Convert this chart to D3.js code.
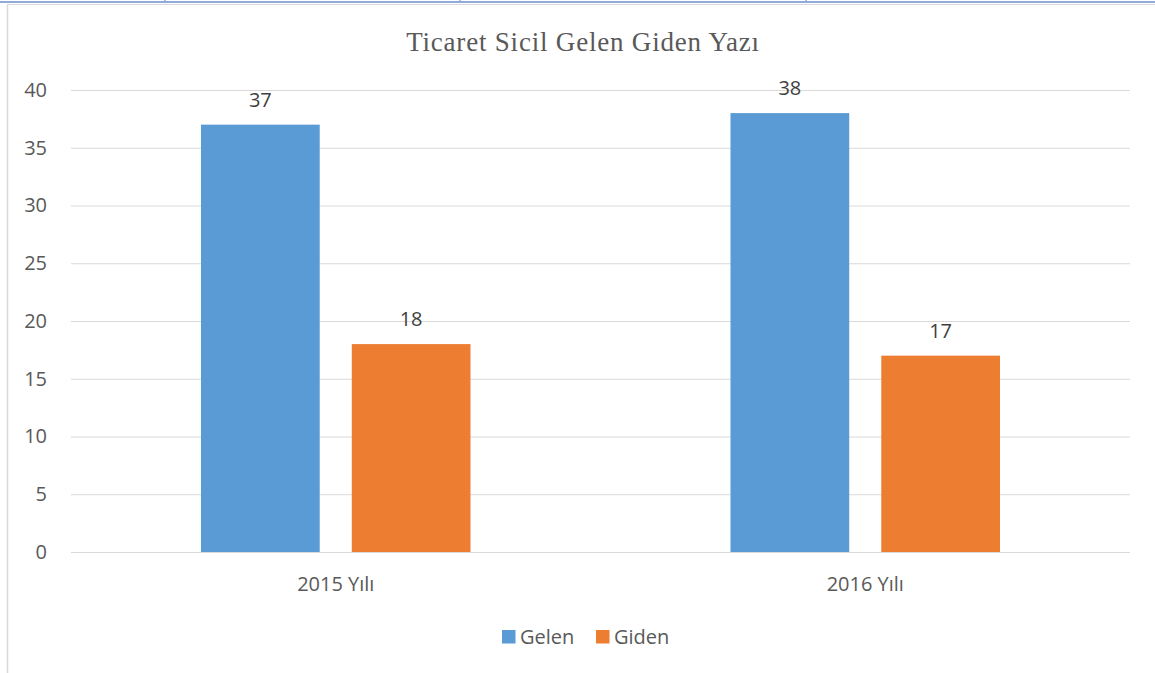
<!DOCTYPE html>
<head>
<meta charset="utf-8">
<title>Ticaret Sicil Gelen Giden Yazı</title>
<script src="https://d3js.org/d3.v7.min.js"></script>
<style>
  body { margin: 0; background: #fff; }
  svg { display: block; }
</style>
</head>
<body>
<div id="container"></div>
<script>
// data
const years = ["2015 Yılı", "2016 Yılı"];
const seriesNames = ["Gelen", "Giden"];
const gelen = [37, 38];
const giden = [18, 17];
const yTicks = [0, 5, 10, 15, 20, 25, 30, 35, 40];
const colors = ["#5B9BD5", "#ED7D31"];

const W = 1155, H = 673;
const margin = {top: 90, right: 25, bottom: 121, left: 71};
const width = W - margin.left - margin.right,
      height = H - margin.top - margin.bottom;
const labelFont = "'Open Sans', 'Noto Sans', sans-serif";

const svg = d3.select("#container").append("svg")
    .attr("width", W)
    .attr("height", H);

// frame lines (table cell borders around the chart)
svg.append("line").attr("x1", 0).attr("x2", W).attr("y1", 2).attr("y2", 2)
    .attr("stroke", "#8EAADB").attr("stroke-width", 2);
[165, 460, 806].forEach(function(x) {
  svg.append("line").attr("x1", x).attr("x2", x).attr("y1", 0).attr("y2", 3)
      .attr("stroke", "#8EAADB").attr("stroke-width", 1.5);
});
svg.append("line").attr("x1", 7).attr("x2", W).attr("y1", 4.5).attr("y2", 4.5)
    .attr("stroke", "#D9D9D9").attr("stroke-width", 1);
svg.append("line").attr("x1", 7.5).attr("x2", 7.5).attr("y1", 4).attr("y2", H)
    .attr("stroke", "#D9D9D9").attr("stroke-width", 1.5);

// title
svg.append("text")
    .attr("x", 583).attr("y", 51)
    .attr("text-anchor", "middle")
    .style("font-family", "'Liberation Serif', 'Times New Roman', serif")
    .style("font-size", "27px")
    .style("letter-spacing", "0.8px")
    .style("fill", "#595959")
    .text("Ticaret Sicil Gelen Giden Yazı");

const g = svg.append("g")
    .attr("transform", "translate(" + margin.left + "," + margin.top + ")");

// scales
const x0 = d3.scaleBand().domain(years).range([0, width]);
const x1 = d3.scaleBand().domain(seriesNames)
    .range([130, x0.bandwidth() - 130])
    .paddingInner(32 / 269 * 2 / (1 + 32 / 269));
const y = d3.scaleLinear().domain([0, 40]).range([height, 0]);

// gridlines
g.selectAll(".grid").data(yTicks).enter().append("line")
    .attr("x1", 0).attr("x2", width)
    .attr("y1", d => y(d) + 0.5).attr("y2", d => y(d) + 0.5)
    .attr("stroke", "#D9D9D9").attr("stroke-width", 1.2);

// y axis labels
const yAxis = d3.axisLeft(y).tickValues(yTicks).tickSize(0).tickPadding(24);
const ya = g.append("g").call(yAxis);
ya.select(".domain").remove();
ya.selectAll("text")
    .style("font-family", labelFont)
    .style("font-size", "20px")
    .style("fill", "#595959");

// x axis labels
const xAxis = d3.axisBottom(x0).tickSize(0).tickPadding(25);
const xa = g.append("g").attr("transform", "translate(0," + height + ")").call(xAxis);
xa.select(".domain").remove();
xa.selectAll("text")
    .style("font-family", labelFont)
    .style("font-size", "20px")
    .style("fill", "#595959");

// bars
const rows = years.map((yr, i) => ({year: yr, values: [
  {name: "Gelen", value: gelen[i]},
  {name: "Giden", value: giden[i]}
]}));

const groups = g.selectAll(".grp").data(rows).enter().append("g")
    .attr("transform", d => "translate(" + x0(d.year) + ",0)");

groups.selectAll("rect").data(d => d.values).enter().append("rect")
    .attr("x", d => x1(d.name))
    .attr("width", x1.bandwidth())
    .attr("y", d => y(d.value))
    .attr("height", d => height - y(d.value))
    .attr("fill", (d, i) => colors[i]);

groups.selectAll(".lbl").data(d => d.values).enter().append("text")
    .attr("x", d => x1(d.name) + x1.bandwidth() / 2)
    .attr("y", d => y(d.value) - 18)
    .attr("text-anchor", "middle")
    .style("font-family", labelFont)
    .style("font-size", "20px")
    .style("fill", "#404040")
    .text(d => d.value);

// legend
const legend = svg.append("g").attr("transform", "translate(502,630)");
const lx = [0, 94];
seriesNames.forEach(function(s, i) {
  legend.append("rect").attr("x", lx[i]).attr("y", 0)
      .attr("width", 13.5).attr("height", 13.5).attr("fill", colors[i]);
  legend.append("text").attr("x", lx[i] + 18).attr("y", 14)
      .style("font-family", labelFont)
      .style("font-size", "20px")
      .style("fill", "#595959")
      .text(s);
});
</script>
</body>
